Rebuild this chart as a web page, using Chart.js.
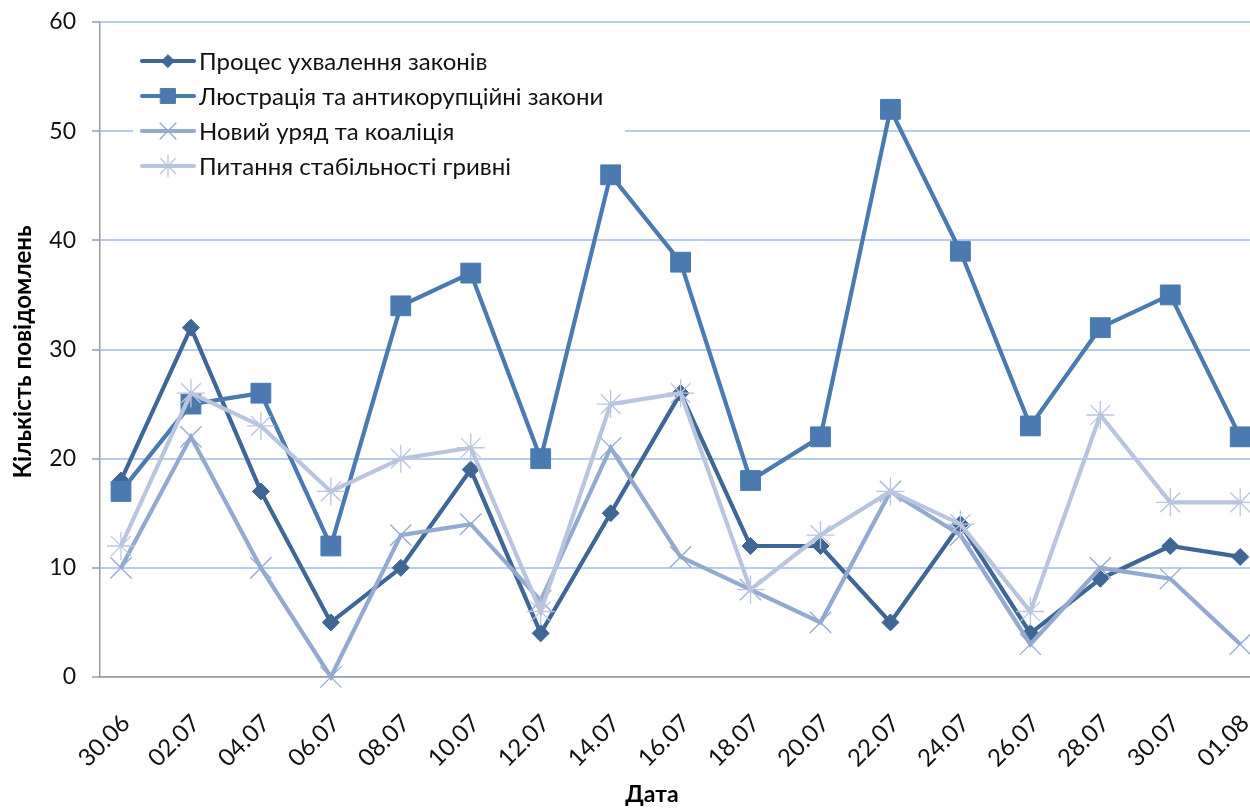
<!DOCTYPE html>
<html>
<head>
<meta charset="utf-8">
<script src="https://cdn.jsdelivr.net/npm/chart.js@4/dist/chart.umd.min.js"></script>
<style>
  html, body { margin: 0; padding: 0; background: #fff; }
  #wrap { width: 1250px; height: 809px; position: relative; }
</style>
</head>
<body>
<div id="wrap"><canvas id="c" width="1250" height="809"></canvas></div>
<script>
// Dates on the category axis
const dates = ['30.06','02.07','04.07','06.07','08.07','10.07','12.07','14.07','16.07',
               '18.07','20.07','22.07','24.07','26.07','28.07','30.07','01.08'];

// Message counts per topic
const lawProcess   = [18, 32, 17, 5, 10, 19, 4, 15, 26, 12, 12, 5, 14, 4, 9, 12, 11];
const lustration   = [17, 25, 26, 12, 34, 37, 20, 46, 38, 18, 22, 52, 39, 23, 32, 35, 22];
const newGov       = [10, 22, 10, 0, 13, 14, 7, 21, 11, 8, 5, 17, 13, 3, 10, 9, 3];
const hryvnia      = [12, 26, 23, 17, 20, 21, 6, 25, 26, 8, 13, 17, 14, 6, 24, 16, 16];

const seriesNames = [
  'Процес ухвалення законів',
  'Люстрація та антикорупційні закони',
  'Новий уряд та коаліція',
  'Питання стабільності гривні'
];

const yTicks = [0, 10, 20, 30, 40, 50, 60];

const FONT = 'Lato, "Open Sans", "Liberation Sans", sans-serif';

const colors = ['#3E6796', '#4A7AAF', '#93A9CF', '#B9C5DE'];
const styles = [
  { pointStyle: 'rectRot', radius: 8.5, pbw: 1, fill: true },
  { pointStyle: 'rect', radius: 14, pbw: 1, fill: true },
  { pointStyle: 'crossRot', radius: 15, pbw: 1.3, fill: false },
  { pointStyle: 'star', radius: 14, pbw: 1.3, fill: false }
];
const seriesData = [lawProcess, lustration, newGov, hryvnia];

const datasets = seriesData.map((vals, i) => ({
  label: seriesNames[i],
  data: vals.map((v, k) => ({ x: k, y: v })),
  borderColor: colors[i],
  backgroundColor: colors[i],
  borderWidth: 4.2,
  pointStyle: styles[i].pointStyle,
  pointRadius: styles[i].radius,
  pointHoverRadius: styles[i].radius,
  pointBorderWidth: styles[i].pbw,
  pointBorderColor: colors[i],
  pointBackgroundColor: styles[i].fill ? colors[i] : 'rgba(0,0,0,0)',
  tension: 0,
  clip: false,
  order: 3 - i
}));

// Legend drawn inside the plot, with a white panel hiding the gridlines behind it
const insideLegend = {
  id: 'insideLegend',
  beforeDatasetsDraw(chart) {
    const ctx = chart.ctx;
    ctx.save();
    ctx.fillStyle = '#fff';
    ctx.fillRect(133, 42, 492, 142);
    ctx.restore();
  },
  afterDraw(chart) {
    const ctx = chart.ctx;
    ctx.save();
    const rows = [61, 96, 131, 166];
    datasets.forEach((ds, i) => {
      const y = rows[i];
      ctx.strokeStyle = ds.borderColor;
      ctx.lineWidth = 4.2;
      ctx.lineCap = 'round';
      ctx.beginPath();
      ctx.moveTo(142, y);
      ctx.lineTo(194, y);
      ctx.stroke();
      ctx.fillStyle = ds.pointBackgroundColor;
      ctx.strokeStyle = ds.pointBorderColor;
      ctx.lineWidth = ds.pointBorderWidth;
      Chart.helpers.drawPoint(ctx, {
        pointStyle: ds.pointStyle,
        radius: ds.pointRadius * 0.75,
        borderWidth: ds.pointBorderWidth
      }, 168, y);
      ctx.fillStyle = '#111';
      ctx.font = '24px ' + FONT;
      ctx.textBaseline = 'middle';
      ctx.textAlign = 'left';
      ctx.fillText(ds.label, 199, y + 1);
    });

    // Axis titles
    ctx.fillStyle = '#000';
    ctx.font = 'bold 23px ' + FONT;
    ctx.textAlign = 'center';
    ctx.textBaseline = 'middle';
    ctx.fillText('Дата', 652, 795);
    ctx.font = 'bold 24px ' + FONT;
    ctx.translate(23, 352);
    ctx.rotate(-Math.PI / 2);
    ctx.fillText('Кількість повідомлень', 0, 0);
    ctx.restore();
  }
};

new Chart(document.getElementById('c'), {
  type: 'line',
  data: { datasets },
  plugins: [insideLegend],
  options: {
    responsive: false,
    animation: false,
    events: [],
    layout: { autoPadding: false, padding: { top: 22, right: 0, left: 0, bottom: 0 } },
    plugins: { legend: { display: false }, tooltip: { enabled: false }, title: { display: false } },
    scales: {
      x: {
        type: 'linear',
        min: -0.3,
        max: 16.14,
        afterBuildTicks: s => { s.ticks = dates.map((_, i) => ({ value: i })); },
        afterFit: s => { s.height = 132; s.paddingLeft = 0; s.paddingRight = 0; },
        grid: { display: false, drawTicks: false },
        border: { display: true, color: '#9D9D9D', width: 1.5 },
        ticks: {
          autoSkip: false,
          minRotation: 45,
          maxRotation: 45,
          padding: 32,
          labelOffset: 5,
          color: '#111',
          font: { family: FONT, size: 24 },
          callback: v => dates[v]
        }
      },
      y: {
        min: 0,
        max: 60,
        afterBuildTicks: s => { s.ticks = yTicks.map(v => ({ value: v })); },
        afterFit: s => { s.width = 100; s.paddingTop = 0; s.paddingBottom = 0; },
        grid: { color: '#B7CBEB', lineWidth: 2, tickColor: '#9D9D9D', tickLength: 8, tickWidth: 1.5 },
        border: { display: true, color: '#9D9D9D', width: 1.5 },
        ticks: {
          padding: 16,
          color: '#111',
          font: { family: FONT, size: 23 }
        }
      }
    }
  }
});
</script>
</body>
</html>
